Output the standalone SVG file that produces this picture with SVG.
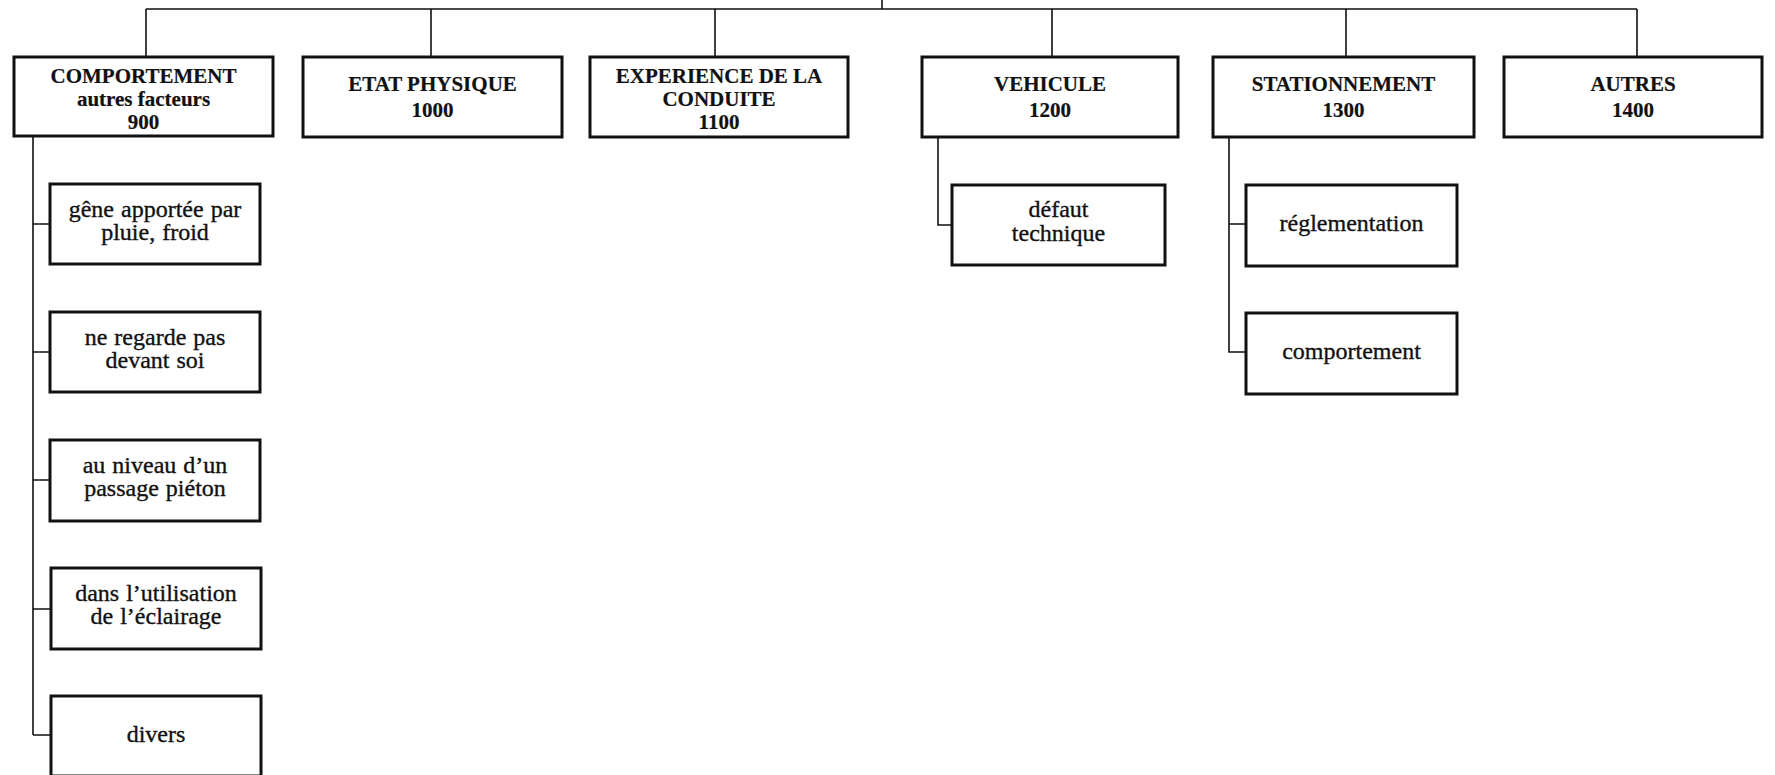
<svg xmlns="http://www.w3.org/2000/svg" width="1775" height="775" viewBox="0 0 1775 775">
<style>
.box{fill:#fff;stroke:#111;stroke-width:3}
.con{fill:none;stroke:#111;stroke-width:1.6}
.h{font-family:"Liberation Serif","Times New Roman",serif;font-weight:bold;font-size:21px;fill:#111;text-anchor:middle;stroke:#111;stroke-width:0.2}
.t{font-family:"Liberation Serif","Times New Roman",serif;font-size:24px;word-spacing:1px;fill:#111;text-anchor:middle;stroke:#111;stroke-width:0.35}
</style>
<rect width="1775" height="775" fill="#fff"/>
<g id="connectors">
<path class="con" d="M882,0V9M146,9H1637M146,9V57M431,9V57M715,9V57M1052,9V57M1346,9V57M1637,9V57"/>
<path class="con" d="M33,136V735M33,224H50M33,352H50M33,480H50M33,609H50M33,735H50"/>
<path class="con" d="M938,137V225H952"/>
<path class="con" d="M1229,137V352H1246M1229,224H1246"/>
</g>
<g id="n900"><rect class="box" x="14" y="57" width="259" height="79"/><text class="h" x="143.5" y="83">COMPORTEMENT</text><text class="h" x="143.5" y="106">autres facteurs</text><text class="h" x="143.5" y="129">900</text></g>
<g id="n1000"><rect class="box" x="303" y="57" width="259" height="80"/><text class="h" x="432.5" y="91">ETAT PHYSIQUE</text><text class="h" x="432.5" y="117">1000</text></g>
<g id="n1100"><rect class="box" x="590" y="57" width="258" height="80"/><text class="h" x="719" y="83">EXPERIENCE DE LA</text><text class="h" x="719" y="106">CONDUITE</text><text class="h" x="719" y="129">1100</text></g>
<g id="n1200"><rect class="box" x="922" y="57" width="256" height="80"/><text class="h" x="1050" y="91">VEHICULE</text><text class="h" x="1050" y="117">1200</text></g>
<g id="n1300"><rect class="box" x="1213" y="57" width="261" height="80"/><text class="h" x="1343.5" y="91">STATIONNEMENT</text><text class="h" x="1343.5" y="117">1300</text></g>
<g id="n1400"><rect class="box" x="1504" y="57" width="258" height="80"/><text class="h" x="1633" y="91">AUTRES</text><text class="h" x="1633" y="117">1400</text></g>
<g id="c1"><rect class="box" x="50" y="184" width="210" height="80"/><text class="t" x="155" y="217">gêne apportée par</text><text class="t" x="155" y="240">pluie, froid</text></g>
<g id="c2"><rect class="box" x="50" y="312" width="210" height="80"/><text class="t" x="155" y="345">ne regarde pas</text><text class="t" x="155" y="368">devant soi</text></g>
<g id="c3"><rect class="box" x="50" y="440" width="210" height="81"/><text class="t" x="155" y="473">au niveau d’un</text><text class="t" x="155" y="496">passage piéton</text></g>
<g id="c4"><rect class="box" x="51" y="568" width="210" height="81"/><text class="t" x="156" y="601">dans l’utilisation</text><text class="t" x="156" y="624">de l’éclairage</text></g>
<g id="c5"><rect class="box" x="51" y="696" width="210" height="80"/><text class="t" x="156" y="742">divers</text></g>
<g id="c6"><rect class="box" x="952" y="185" width="213" height="80"/><text class="t" x="1058.5" y="217">défaut</text><text class="t" x="1058.5" y="241">technique</text></g>
<g id="c7"><rect class="box" x="1246" y="185" width="211" height="81"/><text class="t" x="1351.5" y="231">réglementation</text></g>
<g id="c8"><rect class="box" x="1246" y="313" width="211" height="81"/><text class="t" x="1351.5" y="359">comportement</text></g>
</svg>
